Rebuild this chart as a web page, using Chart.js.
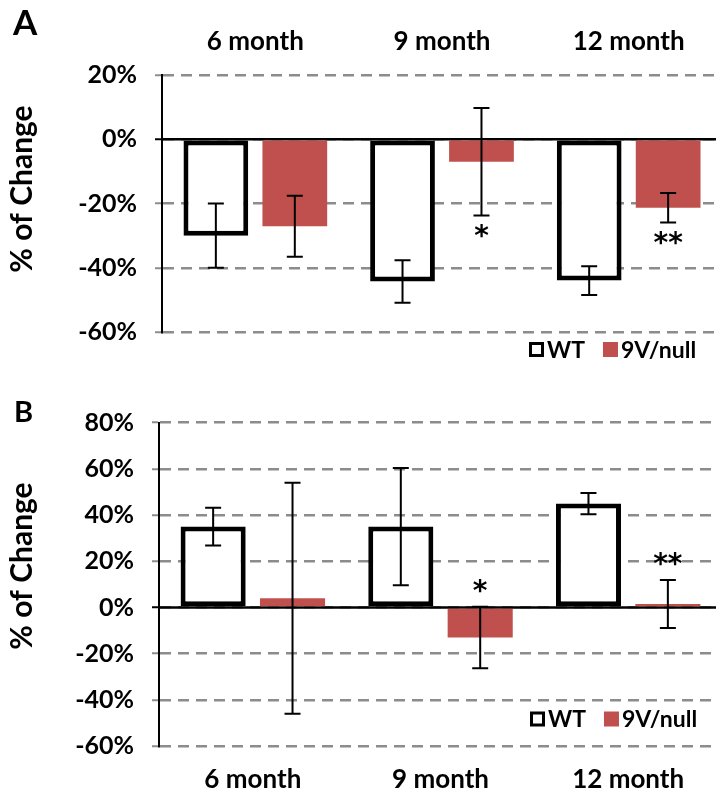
<!DOCTYPE html>
<html>
<head>
<meta charset="utf-8">
<script src="https://cdn.jsdelivr.net/npm/chart.js@4/dist/chart.umd.min.js"></script>
<style>
  html, body { margin: 0; padding: 0; background: #fff; overflow: hidden; }
  #wrap { position: relative; width: 716px; height: 794px; overflow: hidden; }
  canvas { position: absolute; left: 0; }
  #chartA { top: 0; }
  #chartB { top: 380px; }
</style>
</head>
<body>
<div id="wrap">
  <canvas id="chartA" width="724" height="380"></canvas>
  <canvas id="chartB" width="724" height="414"></canvas>
</div>
<script>
const months = ['6 month', '9 month', '12 month'];
const seriesNames = ['WT', '9V/null'];

// panel A: % of change, error bars, significance marks
const wtA = [-30, -44.3, -44];
const wtErrA = [10, 6.6, 4.5];
const nullA = [-27.1, -7, -21.3];
const nullErrA = [9.5, 16.7, 4.6];
const sigA = ['', '*', '**'];
const rangeA = [-60, 20];

// panel B
const wtB = [35, 35, 45];
const wtErrB = [8.2, 25.4, 4.6];
const nullB = [4, -13, 1.5];
const nullErrB = [50, 13.3, 10.4];
const sigB = ['', '*', '**'];
const rangeB = [-60, 80];

const FONT = 'Lato';
const GRID = '#8c8c8c';
const RED = '#C0504D';

// zero line, error bars, stars, letters, y title, legend
const extras = {
    id: 'extras',
    beforeDatasetsDraw(chart) {
        const { ctx, chartArea: a, scales: { y } } = chart;
        const y0 = y.getPixelForValue(0);
        ctx.save();
        ctx.strokeStyle = '#000';
        ctx.lineWidth = 2.5;
        ctx.beginPath();
        ctx.moveTo(a.left, y0);
        ctx.lineTo(a.right, y0);
        ctx.stroke();
        ctx.restore();
    },
    afterDatasetsDraw(chart, args, opts) {
        const { ctx, scales: { y } } = chart;
        ctx.save();
        ctx.strokeStyle = '#000';
        ctx.lineWidth = 2;
        chart.data.datasets.forEach((ds, i) => {
            const meta = chart.getDatasetMeta(i);
            meta.data.forEach((bar, j) => {
                const v = ds.data[j], e = ds.errors[j];
                const hi = y.getPixelForValue(v + e);
                const lo = y.getPixelForValue(v - e);
                ctx.beginPath();
                ctx.moveTo(bar.x, hi); ctx.lineTo(bar.x, lo);
                ctx.moveTo(bar.x - 8, hi); ctx.lineTo(bar.x + 8, hi);
                ctx.moveTo(bar.x - 8, lo); ctx.lineTo(bar.x + 8, lo);
                ctx.stroke();
            });
            if (ds.sig) {
                ctx.fillStyle = '#000';
                ctx.font = 'bold 28px "DejaVu Sans"';
                ctx.textAlign = 'center';
                ctx.textBaseline = 'middle';
                meta.data.forEach((bar, j) => {
                    if (!ds.sig[j]) return;
                    const v = ds.data[j], e = ds.errors[j];
                    let yc;
                    if (opts.sigBelow) yc = y.getPixelForValue(v - e) + 14;
                    else yc = y.getPixelForValue(Math.max(0, v + e)) - 22;
                    ctx.fillText(ds.sig[j], bar.x, yc + 8);
                });
            }
        });
        ctx.restore();
    },
    afterDraw(chart, args, opts) {
        const { ctx } = chart;
        ctx.save();
        ctx.fillStyle = '#000';
        // panel letter
        ctx.font = 'bold ' + opts.letterSize + 'px ' + FONT;
        ctx.textAlign = 'left';
        ctx.textBaseline = 'alphabetic';
        ctx.fillText(opts.letter, opts.letterX, opts.letterY);

        // y axis title
        ctx.save();
        ctx.translate(22, opts.titleY);
        ctx.rotate(-Math.PI / 2);
        ctx.font = 'bold 30px ' + FONT;
        ctx.textAlign = 'center';
        ctx.textBaseline = 'middle';
        ctx.fillText('% of Change', 0, 0);
        ctx.restore();

        // legend
        let x = opts.legendX;
        const ly = opts.legendY;
        const s = 15;
        ctx.font = 'bold 23px ' + FONT;
        ctx.textBaseline = 'middle';
        chart.data.datasets.forEach(ds => {
            if (ds.borderWidth > 0) {
                ctx.lineWidth = 3;
                ctx.strokeStyle = '#000';
                ctx.strokeRect(x + 1.5, ly - s / 2 + 1.5, s - 3, s - 3);
            } else {
                ctx.fillStyle = ds.backgroundColor;
                ctx.fillRect(x, ly - s / 2, s, s);
            }
            x += s + 3;
            ctx.fillStyle = '#000';
            ctx.fillText(ds.label, x, ly + 1);
            x += ctx.measureText(ds.label).width + 18;
        });
        ctx.restore();
    }
};

function makeChart(id, p) {
    const ctx = document.getElementById(id).getContext('2d');
    return new Chart(ctx, {
        type: 'bar',
        data: {
            labels: months,
            datasets: [{
                label: seriesNames[0],
                data: p.wt,
                errors: p.wtErr,
                backgroundColor: '#fff',
                borderColor: '#000',
                borderWidth: 5,
                borderSkipped: false
            }, {
                label: seriesNames[1],
                data: p.nul,
                errors: p.nulErr,
                sig: p.sig,
                backgroundColor: RED,
                borderWidth: 0
            }]
        },
        options: {
            responsive: false,
            animation: false,
            barPercentage: 0.82,
            categoryPercentage: 0.846,
            layout: { padding: { top: p.padTop, left: 0, right: 2, bottom: p.padBottom } },
            plugins: {
                legend: { display: false },
                tooltip: { enabled: false },
                extras: p.extras
            },
            scales: {
                x: {
                    position: p.xPos,
                    grid: { display: false },
                    border: { display: false },
                    ticks: { color: '#000', padding: 10, font: { family: FONT, size: 26, weight: 'bold' } },
                    afterFit: s => { s.height = p.xHeight; }
                },
                y: {
                    min: p.range[0],
                    max: p.range[1],
                    ticks: {
                        stepSize: 20,
                        color: '#000',
                        padding: 18,
                        font: { family: FONT, size: 25, weight: 'bold' },
                        callback: v => v + '%'
                    },
                    grid: {
                        color: GRID,
                        lineWidth: 2.5,
                        drawTicks: true,
                        tickLength: 7,
                        tickWidth: 2,
                        tickBorderDash: [],
                        tickColor: c => (c.tick && c.tick.value === 0) ? '#000' : GRID
                    },
                    border: { display: true, color: '#000', width: 2, dash: [11, 7] },
                    afterFit: s => { s.width = p.yWidth; }
                }
            }
        },
        plugins: [extras]
    });
}

makeChart('chartA', {
    wt: wtA, wtErr: wtErrA, nul: nullA, nulErr: nullErrA, sig: sigA, range: rangeA,
    xPos: 'top', xHeight: 75, yWidth: 162, padTop: 0, padBottom: 48,
    extras: { sigBelow: true, letter: 'A', letterSize: 35, letterX: 13, letterY: 35,
              titleY: 189, legendX: 529, legendY: 349.5 }
});

makeChart('chartB', {
    wt: wtB, wtErr: wtErrB, nul: nullB, nulErr: nullErrB, sig: sigB, range: rangeB,
    xPos: 'bottom', xHeight: 48, yWidth: 159, padTop: 42.7, padBottom: 0,
    extras: { sigBelow: false, letter: 'B', letterSize: 29, letterX: 14, letterY: 42,
              titleY: 186, legendX: 530, legendY: 339 }
});
</script>
</body>
</html>
